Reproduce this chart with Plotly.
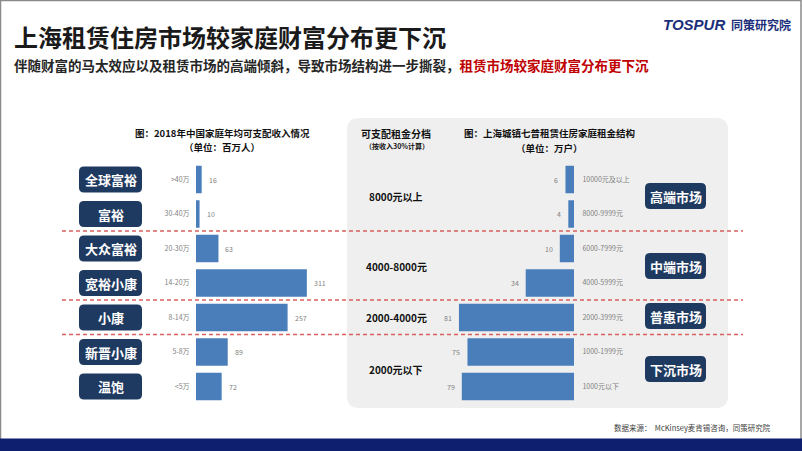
import plotly.graph_objects as go

W, H = 802, 451

# ---------------- data ----------------
wealth_groups = ["全球富裕", "富裕", "大众富裕", "宽裕小康", "小康", "新晋小康", "温饱"]
income_ranges = [">40万", "30-40万", "20-30万", "14-20万", "8-14万", "5-8万", "<5万"]
income_pop = [16, 10, 63, 311, 257, 89, 72]  # 百万人

rent_ranges = ["10000元及以上", "8000-9999元", "6000-7999元", "4000-5999元",
               "2000-3999元", "1000-1999元", "1000元以下"]
rent_households = [6, 4, 10, 34, 81, 75, 79]  # 万户

rent_tiers = ["8000元以上", "4000-8000元", "2000-4000元", "2000元以下"]
markets = ["高端市场", "中端市场", "普惠市场", "下沉市场"]

# ---------------- helpers ----------------
def px(x):
    return x / W

def py(y):
    return 1 - y / H

def rrect(x0, y0, x1, y1, r):
    def P(x, y):
        return f"{px(x):.5f},{py(y):.5f}"
    return (f"M{P(x0+r,y0)} L{P(x1-r,y0)} Q{P(x1,y0)} {P(x1,y0+r)} "
            f"L{P(x1,y1-r)} Q{P(x1,y1)} {P(x1-r,y1)} L{P(x0+r,y1)} "
            f"Q{P(x0,y1)} {P(x0,y1-r)} L{P(x0,y0+r)} Q{P(x0,y0)} {P(x0+r,y0)} Z")

FONT = "Noto Sans CJK SC, Noto Sans, sans-serif"
NAVY = "#1f3a60"
BAR = "#4a7ebb"
GRAY = "#7f7f7f"

row0, step = 179.5, 34.5
rows_top = row0 - step / 2
rows_bot = row0 + 6 * step + step / 2
ydom = [py(rows_bot), py(rows_top)]

fig = go.Figure()

fig.add_trace(go.Bar(
    x=income_pop, y=income_ranges, orientation="h", width=0.8,
    marker=dict(color=BAR, line=dict(width=0)), xaxis="x", yaxis="y",
    hoverinfo="x+y", showlegend=False))

fig.add_trace(go.Bar(
    x=rent_households, y=rent_ranges, orientation="h", width=0.8,
    marker=dict(color=BAR, line=dict(width=0)), xaxis="x2", yaxis="y2",
    hoverinfo="x+y", showlegend=False))

shapes = []
annotations = []

# whole-slide border
shapes.append(dict(type="rect", xref="paper", yref="paper", x0=px(0.5), x1=px(801), y0=py(450.5), y1=py(0.5),
                   line=dict(color="#8a8a8a", width=1.5), fillcolor="rgba(0,0,0,0)", layer="below"))
# gray panel
shapes.append(dict(type="path", xref="paper", yref="paper", path=rrect(347, 118, 728, 408, 12),
                   fillcolor="#efefef", line=dict(width=0), layer="below"))
# bottom strip
shapes.append(dict(type="rect", xref="paper", yref="paper", x0=0, x1=1, y0=0, y1=py(438.5),
                   fillcolor="#0d1f6e", line=dict(width=0), layer="above"))

# dashed separators
for yy in [231, 300, 334.5]:
    shapes.append(dict(type="line", xref="paper", yref="paper", x0=px(62), x1=px(743), y0=py(yy), y1=py(yy),
                       line=dict(color="#d9605e", width=1.5, dash="4px,3px"), layer="above"))

# wealth group boxes
for i, g in enumerate(wealth_groups):
    cy = row0 + i * step
    shapes.append(dict(type="path", xref="paper", yref="paper", path=rrect(79, cy - 13, 142, cy + 13, 5),
                       fillcolor=NAVY, line=dict(width=0), layer="above"))
    annotations.append(dict(text=f"<b>{g}</b>", x=px(110.5), y=py(cy), xref="paper", yref="paper",
                            showarrow=False, font=dict(family=FONT, size=13, color="white"),
                            xanchor="center", yanchor="middle"))

# market boxes
market_y = [196, 266, 316, 369]
for m, cy in zip(markets, market_y):
    shapes.append(dict(type="path", xref="paper", yref="paper", path=rrect(645, cy - 13, 706, cy + 13, 5),
                       fillcolor=NAVY, line=dict(width=0), layer="above"))
    annotations.append(dict(text=f"<b>{m}</b>", x=px(675.5), y=py(cy), xref="paper", yref="paper",
                            showarrow=False, font=dict(family=FONT, size=13, color="white"),
                            xanchor="center", yanchor="middle"))

# rent tier labels
tier_y = [196, 266, 317, 369]
for t, cy in zip(rent_tiers, tier_y):
    annotations.append(dict(text=f"<b>{t}</b>", x=px(396), y=py(cy), xref="paper", yref="paper",
                            showarrow=False, font=dict(family=FONT, size=10, color="#111111"),
                            xanchor="center", yanchor="middle"))

# bar value labels
for v, c in zip(income_pop, income_ranges):
    annotations.append(dict(text=str(v), x=v, y=c, xref="x", yref="y", showarrow=False,
                            xanchor="left", yanchor="middle", xshift=5,
                            font=dict(family=FONT, size=7, color=GRAY)))
for v, c in zip(rent_households, rent_ranges):
    annotations.append(dict(text=str(v), x=v, y=c, xref="x2", yref="y2", showarrow=False,
                            xanchor="right", yanchor="middle", xshift=-5,
                            font=dict(family=FONT, size=7, color=GRAY)))

def txt(t, x, y, size, color="#111111", xanchor="center"):
    annotations.append(dict(text=t, x=px(x), y=py(y), xref="paper", yref="paper", showarrow=False,
                            xanchor=xanchor, yanchor="middle", font=dict(family=FONT, size=size, color=color)))

# titles
txt("<b>上海租赁住房市场较家庭财富分布更下沉</b>", 12, 36, 24, "#1a1a1a", "left")
txt("<b>伴随财富的马太效应以及租赁市场的高端倾斜，导致市场结构进一步撕裂，"
    "<span style='color:#c00000'>租赁市场较家庭财富分布更下沉</span></b>", 12, 65, 13.5, "#262626", "left")

# chart headers
txt("<b>图：2018年中国家庭年均可支配收入情况</b>", 222, 133, 9.5)
txt("<b>（单位：百万人）</b>", 222, 147, 9.5)
txt("<b>可支配租金分档</b>", 396, 133, 10)
txt("<b>（按收入30%计算）</b>", 397, 146, 7)
txt("<b>图：上海城镇七普租赁住房家庭租金结构</b>", 549, 133, 9.5)
txt("<b>（单位：万户）</b>", 549, 147.5, 9.5)

# logo
annotations.append(dict(text="<b><i>TOSPUR</i></b>", x=px(727), y=py(25), xref="paper", yref="paper",
                        showarrow=False, xanchor="right", yanchor="middle",
                        font=dict(family="Liberation Sans, Arial, sans-serif", size=15, color="#1b2f7a")))
annotations.append(dict(text="<b>同策研究院</b>", x=px(729), y=py(25), xref="paper", yref="paper",
                        showarrow=False, xanchor="left", yanchor="middle",
                        font=dict(family=FONT, size=12, color="#1b2f7a")))

# source
txt("数据来源：  McKinsey麦肯锡咨询，同策研究院", 773, 427, 7.5, "#404040", "right")

axis_common = dict(showgrid=False, zeroline=False, showline=False, showticklabels=False, fixedrange=True)

fig.update_layout(
    width=W, height=H,
    margin=dict(l=0, r=0, t=0, b=0),
    paper_bgcolor="white", plot_bgcolor="rgba(0,0,0,0)",
    font=dict(family=FONT),
    bargap=0.2,
    xaxis=dict(domain=[px(196), px(340)], range=[0, 404], anchor="y", **axis_common),
    yaxis=dict(domain=ydom, anchor="x", type="category", categoryorder="array", categoryarray=income_ranges,
               range=[6.5, -0.5], showgrid=False, zeroline=False, showline=False,
               ticks="outside", ticklen=4, tickcolor="rgba(0,0,0,0)",
               tickfont=dict(family=FONT, size=7, color=GRAY)),
    xaxis2=dict(domain=[px(400), px(574)], range=[122.5, 0], anchor="y2", **axis_common),
    yaxis2=dict(domain=ydom, anchor="x2", side="right", type="category", categoryorder="array",
                categoryarray=rent_ranges, range=[6.5, -0.5], showgrid=False, zeroline=False, showline=False,
                ticks="outside", ticklen=6, tickcolor="rgba(0,0,0,0)",
                tickfont=dict(family=FONT, size=7, color=GRAY)),
    shapes=shapes,
    annotations=annotations,
)

fig.write_html("out.html")
